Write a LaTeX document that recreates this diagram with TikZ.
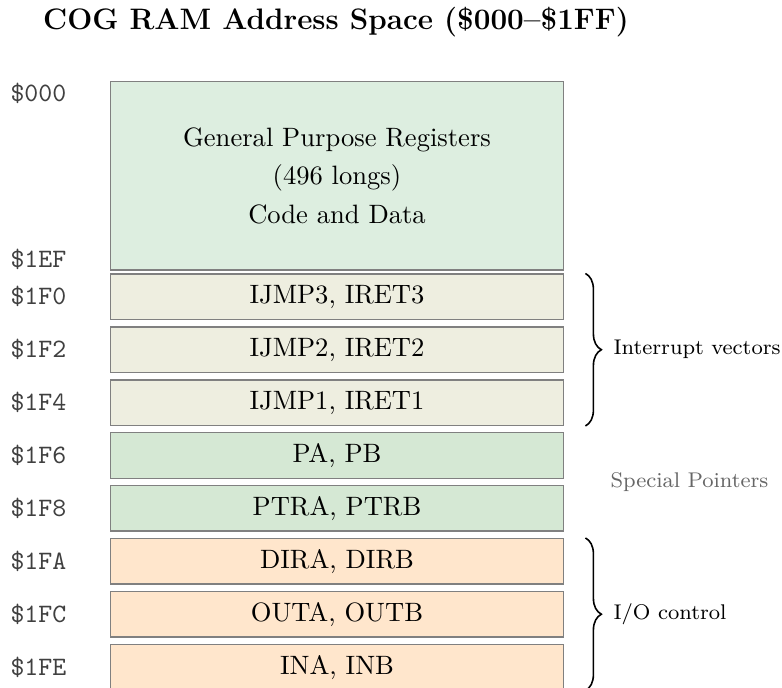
\documentclass[tikz,border=0pt]{standalone}
\usetikzlibrary{calc,decorations.pathreplacing}

\definecolor{gprfill}{HTML}{DDEEE0}
\definecolor{intfill}{HTML}{EEEEE0}
\definecolor{ptrfill}{HTML}{D5E8D4}
\definecolor{iofill}{HTML}{FFE6CC}
\definecolor{boxline}{HTML}{808080}

\tikzset{
  membox/.style={draw=boxline, line width=0.5pt, rectangle, minimum width=6cm,
    minimum height=0.6cm, inner sep=0pt, font=\normalsize},
  addr/.style={anchor=west, inner sep=0pt, font=\ttfamily, text=black!75},
  grouplabel/.style={anchor=west, inner sep=0pt, font=\footnotesize},
  bracket/.style={decorate, decoration={brace, amplitude=6pt}, line width=0.6pt},
}

\begin{document}
\begin{tikzpicture}[x=0.013233cm, y=-0.013233cm]
  \useasboundingbox (0,0) rectangle (782,688);

  % title
  \node[font=\fontsize{11.15}{13.5}\selectfont\bfseries] (title) at (336,22)
    {COG RAM Address Space (\$000--\$1FF)};

  % general purpose register block
  \node[membox, fill=gprfill, minimum height=2.49cm, align=center,
        font=\fontsize{10}{14.5}\selectfont] (gpr) at (337,175.9)
    {General Purpose Registers\\(496 longs)\\Code and Data};

  % special registers
  \node[membox, fill=intfill] (ijmp3) at (337,296.8) {IJMP3, IRET3};
  \node[membox, fill=intfill] (ijmp2) at (337,349.7) {IJMP2, IRET2};
  \node[membox, fill=intfill] (ijmp1) at (337,402.6) {IJMP1, IRET1};
  \node[membox, fill=ptrfill] (pa)    at (337,455.5) {PA, PB};
  \node[membox, fill=ptrfill] (ptra)  at (337,508.4) {PTRA, PTRB};
  \node[membox, fill=iofill]  (dira)  at (337,561.3) {DIRA, DIRB};
  \node[membox, fill=iofill]  (outa)  at (337,614.2) {OUTA, OUTB};
  \node[membox, fill=iofill]  (ina)   at (337,667.1) {INA, INB};

  % addresses
  \node[addr] (a000) at (10,93.5)  {\$000};
  \node[addr] (a1ef) at (10,259)   {\$1EF};
  \node[addr] (a1f0) at (10,296.8) {\$1F0};
  \node[addr] (a1f2) at (10,349.7) {\$1F2};
  \node[addr] (a1f4) at (10,402.6) {\$1F4};
  \node[addr] (a1f6) at (10,455.5) {\$1F6};
  \node[addr] (a1f8) at (10,508.4) {\$1F8};
  \node[addr] (a1fa) at (10,561.3) {\$1FA};
  \node[addr] (a1fc) at (10,614.2) {\$1FC};
  \node[addr] (a1fe) at (10,667.1) {\$1FE};

  % group braces and labels
  \draw[bracket] ($(ijmp3.north east)+(21,0)$) -- ($(ijmp1.south east)+(21,0)$);
  \node[grouplabel] (intlbl) at (613,349.7) {Interrupt vectors};

  \node[grouplabel, text=black!60] (ptrlbl) at (610,481.9) {Special Pointers};

  \draw[bracket] ($(dira.north east)+(21,0)$) -- ($(ina.south east)+(21,0)$);
  \node[grouplabel] (iolbl) at (613,614.2) {I/O control};
\end{tikzpicture}
\end{document}
